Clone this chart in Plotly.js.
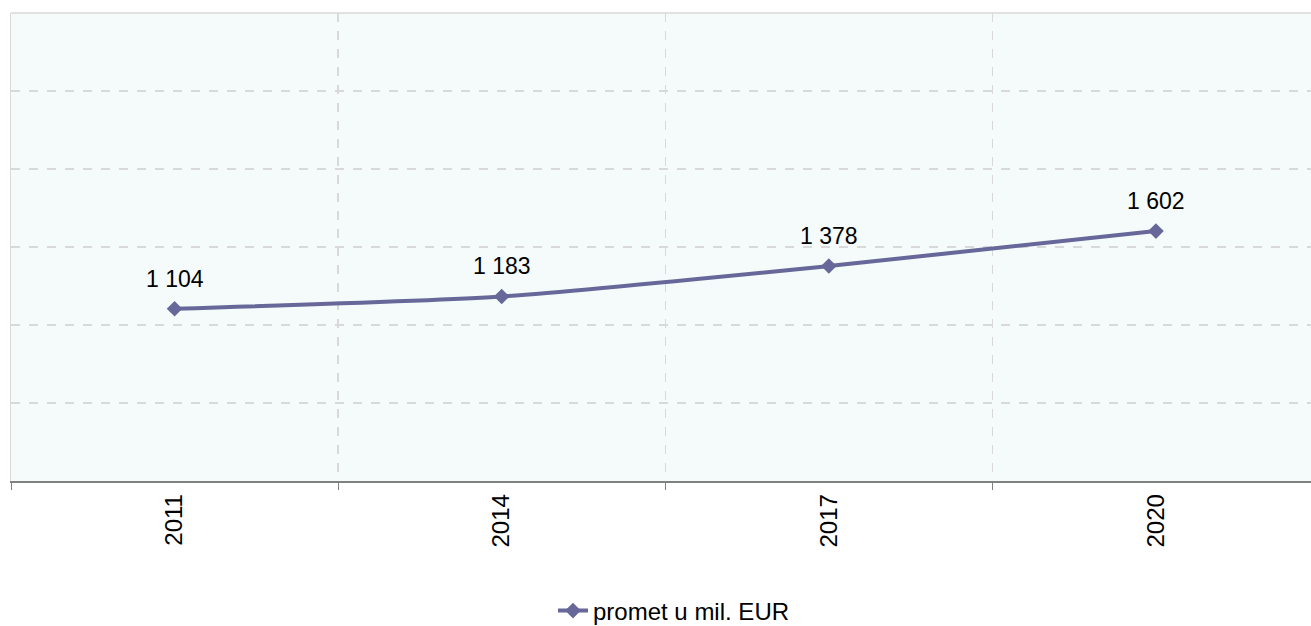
<!DOCTYPE html>
<html>
<head>
<meta charset="utf-8">
<script src="https://cdn.plot.ly/plotly-3.0.1.min.js"></script>
<style>html,body{margin:0;padding:0;background:#fff;}#chart{width:1311px;height:626px;}</style>
</head>
<body>
<div id="chart"></div>
<script>
const years = ["2011", "2014", "2017", "2020"];
const promet = [1104, 1183, 1378, 1602];
const labels = ["1 104", "1 183", "1 378", "1 602"];
const seriesName = "promet u mil. EUR";

const lineColor = "#676799";
const FONT = "Liberation Sans, Arial, sans-serif";
const FS = 23;

const trace = {
  x: years,
  y: promet,
  type: "scatter",
  mode: "lines+markers",
  name: seriesName,
  line: {color: lineColor, width: 4, shape: "spline", smoothing: 0.6},
  marker: {symbol: "diamond", size: 12, color: lineColor},
  hoverinfo: "x+y"
};

const annotations = [];
for (let i = 0; i < years.length; i++) {
  annotations.push({
    x: i, y: promet[i], xref: "x", yref: "y",
    text: labels[i], showarrow: false, yshift: 30,
    xanchor: "center", yanchor: "middle",
    font: {family: FONT, size: FS, color: "#000000"}
  });
}

const layout = {
  width: 1311, height: 626,
  margin: {l: 11, r: 0, t: 13, b: 145, autoexpand: false},
  paper_bgcolor: "#ffffff",
  plot_bgcolor: "#F5FAFA",
  showlegend: true,
  legend: {
    orientation: "h", xref: "paper", x: 0.51, xanchor: "center",
    yref: "container", y: 0.024, yanchor: "middle",
    font: {family: FONT, size: 24, color: "#000"}
  },
  xaxis: {
    type: "category",
    range: [-0.5, 3.474],
    automargin: false,
    tickson: "boundaries",
    ticks: "outside", ticklen: 7, tickcolor: "#808080", tickwidth: 1,
    showgrid: true, gridcolor: "#D9D9D9", griddash: "dash", gridwidth: 1.5,
    showline: true, linecolor: "#808080", linewidth: 1.5,
    tickangle: -90,
    ticklabelstandoff: 2,
    tickfont: {family: FONT, size: 24, color: "#000"},
    fixedrange: true
  },
  yaxis: {
    range: [0, 3000], dtick: 500, tick0: 0,
    automargin: false,
    showticklabels: false, ticks: "",
    showgrid: true, gridcolor: "#D9D9D9", griddash: "dash", gridwidth: 1.5,
    zeroline: false,
    showline: true, linecolor: "#D9D9D9", linewidth: 1.5,
    fixedrange: true
  },
  shapes: [
    {type: "line", xref: "paper", yref: "paper", x0: 0, x1: 1, y0: 1, y1: 1,
     line: {color: "#D9D9D9", width: 1.5}}
  ],
  annotations: annotations
};

Plotly.newPlot("chart", [trace], layout, {displayModeBar: false, staticPlot: true});
</script>
</body>
</html>
